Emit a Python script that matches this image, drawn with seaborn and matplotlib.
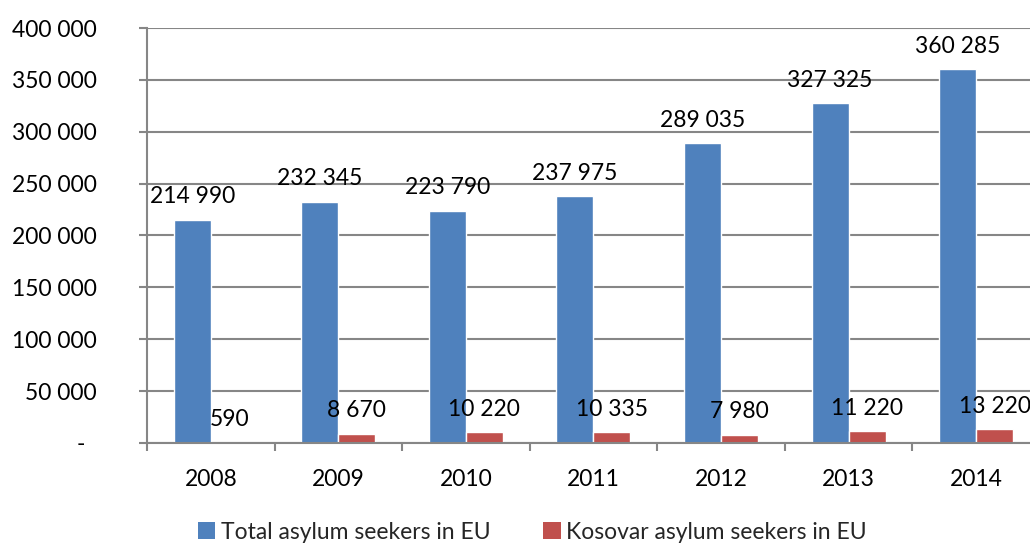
import matplotlib
matplotlib.use("Agg")
import matplotlib.pyplot as plt
import seaborn as sns
import pandas as pd
from matplotlib.patches import Patch

years = ["2008", "2009", "2010", "2011", "2012", "2013", "2014"]
total_eu = [214990, 232345, 223790, 237975, 289035, 327325, 360285]
kosovar_eu = [590, 8670, 10220, 10335, 7980, 11220, 13220]
series_names = ["Total asylum seekers in EU", "Kosovar asylum seekers in EU"]
y_ticks = [0, 50000, 100000, 150000, 200000, 250000, 300000, 350000, 400000]

colors = ["#4F81BD", "#C0504D"]
grid_color = "#868686"

df = pd.DataFrame({
    "year": years * 2,
    "value": total_eu + kosovar_eu,
    "series": [series_names[0]] * len(years) + [series_names[1]] * len(years),
})

sns.set_theme(style="white")
plt.rcParams["font.family"] = ["Lato", "DejaVu Sans"]
FS = 16.5

fig = plt.figure(figsize=(10.30, 5.44), dpi=100)
ax = fig.add_axes([0.1427, 0.1857, 0.8670, 0.7628])

sns.barplot(data=df, x="year", y="value", hue="series", order=years,
            hue_order=series_names, palette=colors, width=0.58,
            saturation=1, ax=ax, legend=False)


def spaced(v):
    return f"{v:,}".replace(",", " ")


for cont in ax.containers:
    vals = [b.get_height() for b in cont]
    ax.bar_label(cont, labels=[spaced(int(round(v))) for v in vals],
                 padding=9, fontsize=FS, color="black")

ax.set_xlim(-0.5, 6.5)
ax.set_ylim(0, 400000)
ax.set_yticks(y_ticks)
ax.set_yticklabels(["-  "] + [spaced(v) for v in y_ticks[1:]])
ax.set_xlabel("")
ax.set_ylabel("")

ax.yaxis.grid(True, color=grid_color, linewidth=1.5)
ax.set_axisbelow(True)
for s in ["top", "right"]:
    ax.spines[s].set_visible(False)
for s in ["left", "bottom"]:
    ax.spines[s].set_color(grid_color)
    ax.spines[s].set_linewidth(1.5)

ax.tick_params(axis="y", which="major", length=6, width=1.5, color=grid_color,
               pad=30, labelsize=FS, labelcolor="black", left=True)
ax.set_xticks([i - 0.5 for i in range(len(years) + 1)], minor=True)
ax.tick_params(axis="x", which="minor", length=6, width=1.5, color=grid_color,
               bottom=True, direction="out")
ax.tick_params(axis="x", which="major", length=0, pad=19, labelsize=FS,
               labelcolor="black")

handles = [Patch(facecolor=c, edgecolor="none") for c in colors]
fig.legend(handles, series_names, loc="center", bbox_to_anchor=(0.517, 0.022),
           ncol=2, frameon=False, fontsize=FS, handlelength=0.75,
           handleheight=0.75, handletextpad=0.25, columnspacing=2.3)

fig.savefig("out.png", dpi=100)
